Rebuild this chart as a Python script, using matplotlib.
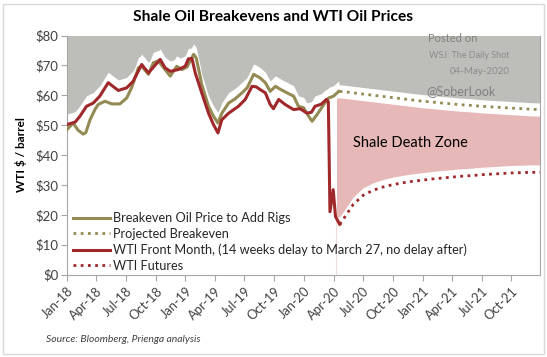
import numpy as np
import matplotlib
matplotlib.use("Agg")
import matplotlib.pyplot as plt
import matplotlib.dates as mdates
from matplotlib.patches import Rectangle
from matplotlib.lines import Line2D

plt.rcParams['font.family'] = ['Lato', 'DejaVu Sans']

# --- data --------------------------------------------------------------
wti_dates = ['2018-01-01', '2018-01-26', '2018-02-10', '2018-03-02', '2018-03-23', '2018-04-12',
             '2018-05-08', '2018-06-08', '2018-07-04', '2018-07-24', '2018-08-19', '2018-09-09',
             '2018-10-15', '2018-10-30', '2018-11-15', '2018-12-10', '2018-12-31', '2019-01-10',
             '2019-01-21', '2019-01-31', '2019-02-10', '2019-02-20', '2019-03-13', '2019-03-28',
             '2019-04-11', '2019-04-23', '2019-05-14', '2019-06-13', '2019-07-04', '2019-07-25',
             '2019-08-07', '2019-08-19', '2019-09-04', '2019-09-19', '2019-09-29', '2019-10-15',
             '2019-11-04', '2019-11-30', '2019-12-20', '2020-01-10', '2020-01-24', '2020-02-04',
             '2020-02-23', '2020-03-10', '2020-03-16', '2020-03-21', '2020-03-31', '2020-04-07',
             '2020-04-20']
wti_vals = [50.2, 51.0, 53.0, 56.3, 57.4, 59.7,
            64.2, 61.6, 62.5, 64.7, 70.3, 67.5,
            72.0, 69.2, 68.0, 68.6, 69.7, 72.2,
            72.3, 67.5, 64.2, 60.8, 54.0, 50.2,
            47.4, 51.8, 54.0, 56.3, 58.6, 63.0,
            62.8, 61.9, 60.8, 56.9, 55.5, 58.6,
            56.9, 55.2, 55.5, 54.0, 54.3, 56.3,
            57.0, 58.6, 57.8, 21.0, 28.4, 19.4,
            16.8]

be_dates = ['2018-01-01', '2018-01-20', '2018-02-04', '2018-02-20', '2018-02-28', '2018-03-13',
            '2018-03-28', '2018-04-07', '2018-04-28', '2018-05-19', '2018-06-13', '2018-07-04',
            '2018-07-19', '2018-08-09', '2018-08-19', '2018-09-09', '2018-09-24', '2018-10-09',
            '2018-10-30', '2018-11-15', '2018-12-05', '2018-12-21', '2019-01-06', '2019-01-26',
            '2019-02-03', '2019-02-15', '2019-02-20', '2019-03-13', '2019-03-28', '2019-04-11',
            '2019-04-23', '2019-05-14', '2019-06-03', '2019-06-24', '2019-07-10', '2019-07-30',
            '2019-08-19', '2019-09-04', '2019-09-19', '2019-10-05', '2019-10-20', '2019-11-10',
            '2019-11-30', '2019-12-15', '2019-12-31', '2020-01-15', '2020-01-26', '2020-02-10',
            '2020-03-02', '2020-03-17', '2020-04-01', '2020-04-17']
be_vals = [48.5, 50.7, 48.3, 47.0, 47.5, 51.8,
           55.2, 56.9, 58.0, 57.1, 57.1, 59.1,
           62.5, 69.2, 69.7, 67.0, 70.9, 71.5,
           68.6, 66.4, 69.7, 68.6, 69.5, 73.7,
           72.5, 66.4, 63.6, 56.3, 53.0, 50.7,
           54.0, 57.4, 58.8, 60.8, 62.5, 67.0,
           65.8, 64.2, 61.3, 63.0, 62.0, 60.8,
           59.7, 56.3, 55.8, 53.0, 51.3, 53.5,
           56.9, 59.1, 59.7, 61.3]

proj_dates = ['2020-04-20', '2020-05-01', '2020-06-01', '2020-07-01', '2020-08-01', '2020-09-01',
              '2020-10-01', '2020-11-01', '2020-12-01', '2021-01-01', '2021-02-01', '2021-03-01',
              '2021-04-01', '2021-05-01', '2021-06-01', '2021-07-01', '2021-08-01', '2021-09-01',
              '2021-10-01', '2021-11-01', '2021-12-01', '2021-12-28']
proj_be = [61.3, 61.2, 60.8, 60.4, 60.0, 59.6,
           59.2, 58.8, 58.4, 58.0, 57.7, 57.4,
           57.1, 56.8, 56.6, 56.3, 56.1, 55.9,
           55.7, 55.5, 55.3, 55.2]
futures = [16.8, 18.5, 23.5, 26.5, 28.2, 29.3,
           30.1, 30.7, 31.2, 31.6, 32.0, 32.3,
           32.6, 32.9, 33.1, 33.4, 33.6, 33.8,
           34.0, 34.1, 34.2, 34.2]

labels = ['Breakeven Oil Price to Add Rigs', 'Projected Breakeven',
          'WTI Front Month, (14 weeks delay to March 27, no delay after)', 'WTI Futures']

OLIVE = '#948A54'
RED = '#A0282A'
GREY = '#BDBDB9'
PINK = '#E6B8B7'

wti_d = np.array(wti_dates, dtype='datetime64[D]')
be_d = np.array(be_dates, dtype='datetime64[D]')
pr_d = np.array(proj_dates, dtype='datetime64[D]')

# envelopes for the shaded zones
t0, t1 = np.datetime64('2018-01-01'), np.datetime64('2021-12-28')
grid = np.arange(t0, t1 + 1, dtype='datetime64[D]')
g = grid.astype(float)
hist = np.maximum(np.interp(g, be_d.astype(float), be_vals),
                  np.interp(g, wti_d.astype(float), wti_vals)) + 3.5
proj_top = np.interp(g, pr_d.astype(float), proj_be)
grey_low = np.where(grid <= be_d[-1], hist, proj_top + 2.2)

zone = grid >= np.datetime64('2020-04-10')
pink_top = proj_top - 2.2
pink_low = np.interp(g, pr_d.astype(float), futures) + 2.5

fig = plt.figure(figsize=(5.47, 3.57), dpi=100)
ax = fig.add_axes([67 / 547, 1 - 274.5 / 357, 473 / 547, 239 / 357])

ax.fill_between(grid, grey_low, 80, color=GREY, lw=0, zorder=1)
ax.fill_between(grid[zone], pink_low[zone], pink_top[zone], color=PINK, lw=0, zorder=1)
ax.vlines(np.datetime64('2020-04-10'), 0, 20, color='#F2DCDB', lw=0.8, zorder=0)

ax.plot(be_d, be_vals, color=OLIVE, lw=2.2, solid_joinstyle='round', zorder=3)
ax.plot(wti_d, wti_vals, color=RED, lw=2.2, solid_joinstyle='round', zorder=4)
ax.plot(pr_d, proj_be, color=OLIVE, lw=2, ls=(0, (1, 1.6)), zorder=3)
ax.plot(pr_d, futures, color=RED, lw=2, ls=(0, (1, 1.6)), zorder=3)

ax.set_xlim(t0, t1)
ax.set_ylim(0, 80)
ax.set_yticks(np.arange(0, 81, 10))
ax.yaxis.set_major_formatter(plt.FuncFormatter(lambda v, p: f'${v:.0f}'))
ax.xaxis.set_major_locator(mdates.MonthLocator(bymonth=[1, 4, 7, 10]))
ax.xaxis.set_major_formatter(mdates.DateFormatter('%b-%y'))
ax.tick_params(axis='both', colors='#A6A6A6', length=4, width=0.8, labelcolor='#404040')
ax.tick_params(axis='y', labelsize=9.5, pad=2)
ax.tick_params(axis='x', labelsize=9.3)
for lab in ax.get_xticklabels():
    lab.set_rotation(45)
    lab.set_ha('right')
    lab.set_rotation_mode('anchor')
for s in ['left', 'bottom', 'right']:
    ax.spines[s].set_color('#A6A6A6')
    ax.spines[s].set_linewidth(0.8)
ax.spines['top'].set_visible(False)

ax.set_ylabel('WTI $ / barrel', fontsize=8.5, fontweight='bold', color='black', labelpad=6)

handles = [Line2D([], [], color=OLIVE, lw=2.2),
           Line2D([], [], color=OLIVE, lw=2, ls=(0, (1, 1.6))),
           Line2D([], [], color=RED, lw=2.2),
           Line2D([], [], color=RED, lw=2, ls=(0, (1, 1.6)))]
ax.legend(handles, labels, loc='upper left', bbox_to_anchor=(0.012, 0.26), frameon=False,
          fontsize=9.2, handlelength=2.9, handletextpad=0.25, labelspacing=0.28,
          borderpad=0, borderaxespad=0, labelcolor='#262626')

ax.text(0.605, 0.55, 'Shale Death Zone', transform=ax.transAxes, fontsize=10.5,
        color='black', ha='left', va='center')

fig.text(273 / 547, 1 - 17 / 357, 'Shale Oil Breakevens and WTI Oil Prices', fontsize=11.2,
         fontweight='bold', ha='center', va='center')
fig.text(428 / 547, 1 - 39 / 357, 'Posted on', fontsize=8, color='#808080', va='center')
fig.text(429 / 547, 1 - 55 / 357, 'WSJ: The Daily Shot', fontsize=6.5, color='#8C8C8C', va='center')
fig.text(510 / 547, 1 - 71 / 357, '04-May-2020', fontsize=7, color='#8C8C8C', va='center', ha='right')
fig.text(426 / 547, 1 - 91 / 357, '@SoberLook', fontsize=9, color='#808080', va='center')
fig.text(46 / 547, 1 - 340 / 357, 'Source: Bloomberg, Prienga analysis', fontsize=7.5,
         style='italic', color='#404040', va='center')

fig.patches.append(Rectangle((3 / 547, 3 / 357), 541 / 547, 350 / 357, transform=fig.transFigure,
                             fill=False, ec='#D9D9D9', lw=1))

fig.savefig('out.png', dpi=100)
